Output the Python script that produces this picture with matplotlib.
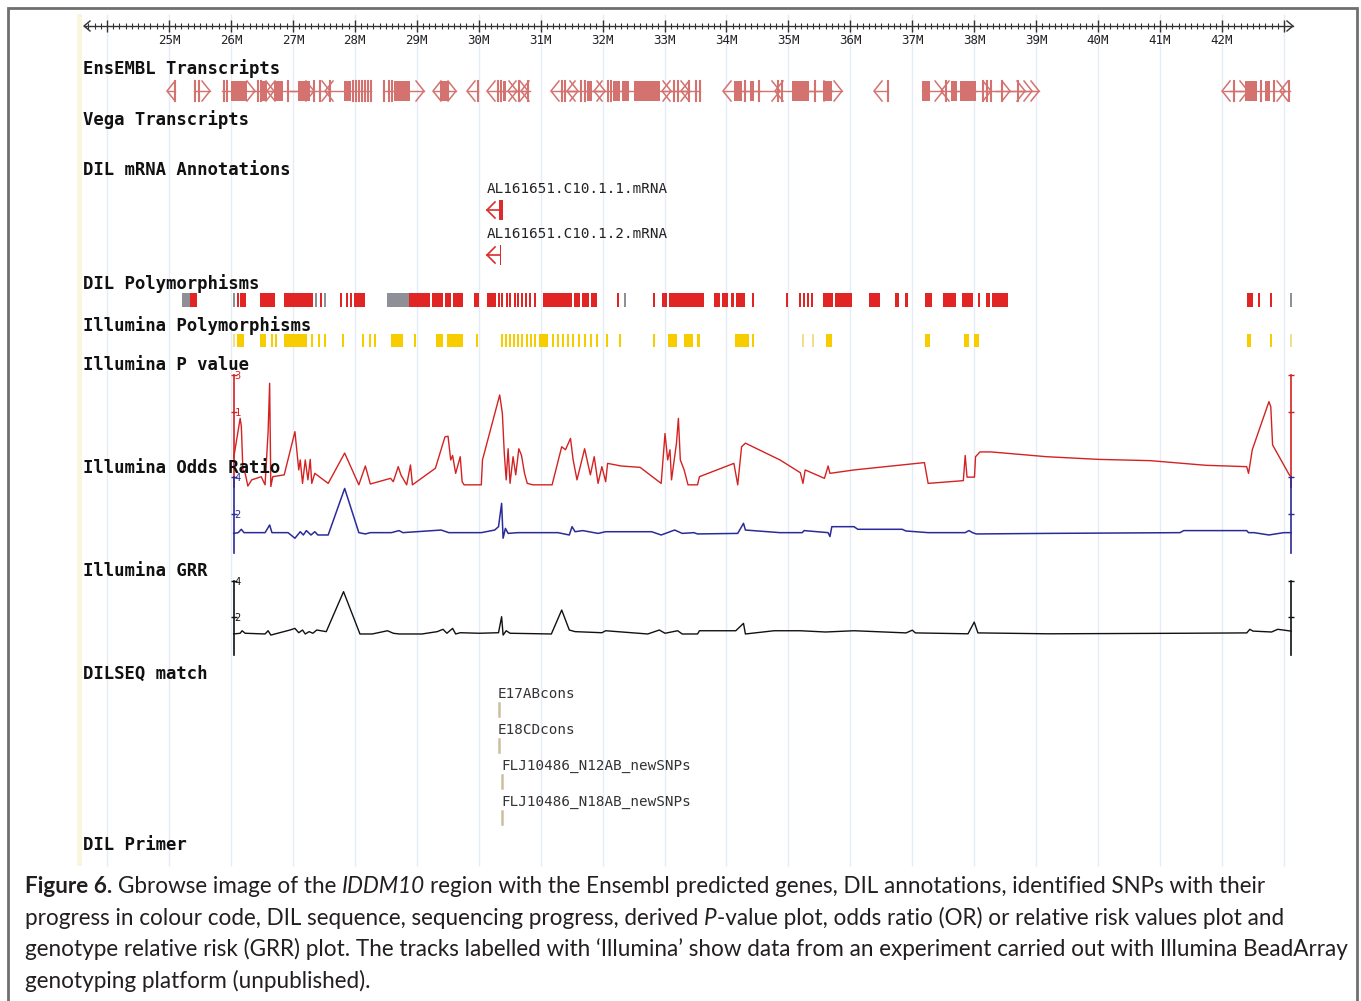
import matplotlib
matplotlib.use("Agg")
import matplotlib.pyplot as plt
from matplotlib.patches import Rectangle
from matplotlib.ticker import FixedLocator, NullLocator, FuncFormatter
import numpy as np

W, H = 1361, 1001
MB_LEFT, MB_RIGHT = 22.2716, 44.2444   # genome position (Mb) at the left / right edge of the image
PX = (MB_RIGHT - MB_LEFT) / W          # Mb per pixel

# ---- EnsEMBL transcripts (Mb) ----
gene_start = [24.968, 25.404, 25.856, 26.340, 26.582, 26.954, 27.276, 27.519, 28.455, 29.262,
              29.375, 29.811, 30.134, 30.304, 30.473, 30.538, 30.683, 31.167, 31.313, 31.426,
              31.716, 31.862, 32.184, 32.960, 33.089, 33.266, 33.944, 34.218, 34.784, 35.187,
              35.348, 36.382, 37.157, 37.464, 37.609, 38.174, 38.335, 38.578, 38.707, 42.001,
              42.130, 42.291, 42.937]
gene_end = [25.097, 25.662, 26.388, 26.695, 27.067, 27.341, 27.599, 28.261, 29.117, 29.521,
            29.634, 29.989, 30.425, 30.618, 30.651, 30.796, 30.828, 31.555, 31.603, 31.958,
            32.039, 32.426, 33.105, 33.411, 33.395, 33.573, 34.541, 34.864, 35.348, 35.704,
            35.866, 36.600, 37.497, 38.021, 38.271, 38.578, 38.820, 38.933, 39.046, 42.291,
            42.420, 43.018, 43.098]
gene_strand = [-1, 1, 1, 1, -1, 1, 1, -1, 1, -1,
               1, -1, -1, 1, -1, 1, -1, -1, 1, -1,
               1, -1, 1, -1, 1, -1, -1, 1, -1, 1,
               1, -1, 1, -1, 1, 1, 1, 1, 1, -1,
               1, 1, -1]
exon_start = [25.097, 25.420, 25.484, 25.888, 25.936, 26.001, 26.437, 26.485, 26.501, 26.695,
              26.921, 27.075, 27.341, 27.438, 27.599, 27.825, 27.971, 28.019, 28.068, 28.116,
              28.164, 28.213, 28.261, 28.471, 28.544, 28.600, 28.633, 29.375, 29.989, 30.304,
              30.360, 30.393, 30.651, 30.796, 31.345, 31.393, 31.652, 31.716, 31.749, 32.088,
              32.136, 32.161, 32.313, 32.507, 33.153, 33.218, 33.395, 33.508, 33.573, 34.121,
              34.299, 34.380, 34.525, 34.832, 34.897, 35.058, 35.429, 35.551, 36.600, 37.157,
              37.545, 37.625, 37.771, 38.142, 38.206, 38.271, 38.449, 38.707, 42.194, 42.372,
              42.630, 42.695, 42.840, 43.082]
exon_end = [25.097, 25.420, 25.484, 25.888, 25.936, 26.267, 26.437, 26.485, 26.582, 26.841,
            26.921, 27.276, 27.341, 27.438, 27.599, 27.938, 27.971, 28.019, 28.068, 28.116,
            28.164, 28.213, 28.261, 28.471, 28.544, 28.600, 28.891, 29.521, 29.989, 30.304,
            30.360, 30.441, 30.651, 30.796, 31.345, 31.393, 31.652, 31.716, 31.829, 32.088,
            32.136, 32.276, 32.426, 32.927, 33.153, 33.218, 33.395, 33.508, 33.573, 34.250,
            34.299, 34.444, 34.525, 34.832, 34.897, 35.332, 35.429, 35.704, 36.600, 37.280,
            37.545, 37.722, 38.021, 38.142, 38.206, 38.271, 38.449, 38.707, 42.194, 42.565,
            42.630, 42.775, 42.840, 43.082]

# ---- DIL mRNA annotations ----
mrna_names = ["AL161651.C10.1.1.mRNA", "AL161651.C10.1.2.mRNA"]
mrna_start = [30.134, 30.134]
mrna_exon = [(30.328, 30.393), (30.344, 30.360)]

# ---- DIL polymorphisms (state: r = done, g = pending) ----
dil_start = [25.203, 25.347, 26.033, 26.100, 26.140, 26.469, 26.857, 27.351, 27.438, 27.496,
             27.761, 27.858, 27.922, 27.979, 28.520, 28.875, 29.250, 29.455, 29.580, 29.924,
             30.134, 30.312, 30.368, 30.433, 30.489, 30.570, 30.618, 30.683, 30.747, 30.812,
             30.893, 31.038, 31.540, 31.668, 31.813, 32.233, 32.340, 32.808, 32.952, 33.080,
             33.799, 33.928, 34.073, 34.162, 34.406, 34.968, 35.171, 35.236, 35.300, 35.365,
             35.559, 35.753, 36.301, 36.721, 36.883, 37.206, 37.497, 37.803, 38.053, 38.190,
             38.287, 42.400, 42.582, 42.776, 43.098]
dil_end = [25.347, 25.452, 26.033, 26.100, 26.243, 26.711, 27.325, 27.351, 27.438, 27.496,
           27.761, 27.858, 27.922, 28.158, 28.875, 29.220, 29.420, 29.550, 29.747, 29.997,
           30.279, 30.312, 30.368, 30.433, 30.489, 30.570, 30.618, 30.683, 30.747, 30.812,
           30.893, 31.506, 31.635, 31.781, 31.910, 32.233, 32.340, 32.808, 33.040, 33.637,
           33.896, 34.025, 34.122, 34.300, 34.406, 34.968, 35.171, 35.236, 35.300, 35.365,
           35.720, 36.019, 36.478, 36.786, 36.931, 37.319, 37.706, 37.981, 38.094, 38.255,
           38.546, 42.502, 42.582, 42.776, 43.098]
dil_state = "grgrrrrgrgrrrrgrrrrrrrrrrrrrrrrrrrrrgrrrrrrrrrrrrrrrrrrrrrrrrrrrg"

# ---- Illumina polymorphisms (state: y = typed, p = pale) ----
ill_start = [26.033, 26.098, 26.469, 26.645, 26.711, 26.857, 27.293, 27.406, 27.503, 27.793,
             28.122, 28.229, 28.303, 28.591, 28.951, 29.311, 29.488, 29.957, 30.360, 30.425,
             30.489, 30.554, 30.618, 30.683, 30.764, 30.828, 30.893, 30.974, 31.183, 31.264,
             31.345, 31.426, 31.506, 31.603, 31.700, 31.797, 31.894, 32.055, 32.265, 32.808,
             33.056, 33.315, 33.531, 34.138, 34.406, 35.213, 35.387, 35.599, 37.206, 37.836,
             37.997, 42.400, 42.771, 43.098]
ill_end = [26.033, 26.211, 26.573, 26.645, 26.711, 27.222, 27.293, 27.406, 27.503, 27.793,
           28.122, 28.229, 28.303, 28.771, 28.951, 29.424, 29.747, 29.957, 30.360, 30.425,
           30.489, 30.554, 30.618, 30.683, 30.764, 30.828, 30.893, 31.114, 31.183, 31.264,
           31.345, 31.426, 31.506, 31.603, 31.700, 31.797, 31.894, 32.055, 32.265, 32.808,
           33.202, 33.460, 33.565, 34.358, 34.441, 35.213, 35.387, 35.704, 37.282, 37.913,
           38.073, 42.469, 42.808, 43.130]
ill_state = "pyyyyyyyyyyyyyyyyyyyyyyyyyyyyyyyyyyyyyyyyyyyyppyyyyyyp"

# ---- Illumina P value ----
pval_mb = [26.044, 26.149, 26.168, 26.193, 26.230, 26.273, 26.335, 26.489, 26.551, 26.600,
           26.625, 26.644, 26.675, 26.860, 27.033, 27.095, 27.119, 27.156, 27.200, 27.243,
           27.280, 27.305, 27.354, 27.570, 27.836, 28.065, 28.170, 28.250, 28.578, 28.621,
           28.701, 28.744, 28.837, 28.899, 28.930, 29.301, 29.455, 29.505, 29.548, 29.579,
           29.628, 29.702, 29.733, 29.764, 30.042, 30.061, 30.339, 30.382, 30.413, 30.444,
           30.475, 30.506, 30.555, 30.598, 30.648, 30.691, 30.740, 30.784, 30.876, 31.185,
           31.340, 31.401, 31.482, 31.525, 31.587, 31.710, 31.803, 31.865, 31.927, 31.989,
           32.050, 32.081, 32.297, 32.606, 32.946, 33.008, 33.051, 33.088, 33.113, 33.193,
           33.224, 33.255, 33.317, 33.379, 33.533, 33.564, 34.120, 34.182, 34.244, 34.306,
           34.864, 35.193, 35.235, 35.271, 35.582, 35.641, 35.671, 36.060, 37.196, 37.256,
           37.824, 37.854, 37.884, 38.004, 38.021, 38.093, 38.273, 39.170, 40.007, 40.844,
           41.741, 42.399, 42.429, 42.489, 42.758, 42.788, 42.817, 43.087, 43.116]
pval = [0.25, 0.82, 0.64, 0.175, 0.158, 0.108, 0.130, 0.143, 0.112, 0.55,
        2.34, 0.106, 0.143, 0.151, 0.55, 0.175, 0.236, 0.117, 0.236, 0.130,
        0.24, 0.117, 0.158, 0.117, 0.29, 0.112, 0.197, 0.115, 0.136, 0.123,
        0.193, 0.151, 0.112, 0.203, 0.112, 0.184, 0.47, 0.48, 0.236, 0.27,
        0.158, 0.26, 0.123, 0.112, 0.112, 0.236, 1.65, 0.95, 0.29, 0.130,
        0.33, 0.117, 0.26, 0.151, 0.33, 0.27, 0.158, 0.117, 0.112, 0.112,
        0.35, 0.32, 0.45, 0.236, 0.130, 0.33, 0.151, 0.26, 0.117, 0.193,
        0.123, 0.213, 0.197, 0.189, 0.117, 0.52, 0.236, 0.32, 0.130, 0.39,
        0.82, 0.236, 0.175, 0.112, 0.112, 0.143, 0.213, 0.112, 0.35, 0.39,
        0.236, 0.161, 0.117, 0.175, 0.136, 0.197, 0.158, 0.175, 0.218, 0.117,
        0.127, 0.27, 0.141, 0.141, 0.26, 0.30, 0.30, 0.26, 0.24, 0.231,
        0.201, 0.193, 0.158, 0.32, 1.35, 1.16, 0.37, 0.151, 0.143]

# ---- Illumina odds ratio ----
or_mb = [26.044, 26.118, 26.168, 26.211, 26.551, 26.625, 26.662, 26.922, 27.033, 27.119,
         27.169, 27.218, 27.292, 27.354, 27.404, 27.570, 27.836, 28.065, 28.170, 28.250,
         28.590, 28.714, 28.776, 29.393, 29.517, 30.042, 30.258, 30.320, 30.370, 30.394,
         30.431, 30.475, 30.629, 31.278, 31.463, 31.507, 31.556, 31.680, 31.927, 32.050,
         32.792, 32.946, 33.163, 33.286, 33.472, 33.533, 34.182, 34.275, 34.306, 34.864,
         35.223, 35.253, 35.641, 35.671, 35.701, 36.060, 36.120, 36.837, 36.897, 37.256,
         37.854, 37.914, 37.974, 38.033, 39.170, 41.322, 41.382, 42.399, 42.429, 42.518,
         42.758, 42.997, 43.116]
odds = [0.96, 1.0, 1.18, 1.0, 1.0, 1.41, 1.0, 1.0, 0.70, 1.05,
        0.875, 1.11, 0.875, 1.05, 0.875, 0.875, 3.37, 1.0, 0.93, 1.0,
        1.0, 1.11, 1.0, 1.14, 1.0, 1.0, 1.14, 1.32, 2.57, 0.70,
        1.23, 0.96, 1.0, 1.0, 0.875, 1.32, 1.05, 1.11, 0.96, 1.05,
        1.05, 0.875, 1.14, 0.96, 1.0, 0.93, 0.96, 1.5, 1.14, 1.0,
        1.0, 1.11, 1.0, 0.79, 1.32, 1.32, 1.18, 1.18, 1.09, 1.0,
        1.0, 1.11, 1.0, 0.93, 0.96, 1.0, 1.11, 1.11, 1.0, 1.0,
        0.875, 1.0, 1.0]

# ---- Illumina GRR ----
grr_mb = [26.044, 26.149, 26.180, 26.230, 26.551, 26.600, 26.644, 26.953, 27.033, 27.095,
          27.156, 27.200, 27.262, 27.323, 27.385, 27.539, 27.818, 28.083, 28.281, 28.528,
          28.621, 28.714, 29.084, 29.331, 29.424, 29.486, 29.579, 29.628, 29.702, 30.011,
          30.320, 30.370, 30.394, 30.444, 30.506, 31.173, 31.340, 31.463, 31.556, 31.989,
          32.050, 32.730, 32.916, 33.008, 33.212, 33.286, 33.533, 33.564, 34.151, 34.275,
          34.306, 34.769, 35.190, 35.600, 36.060, 36.900, 37.000, 37.050, 37.900, 38.000,
          38.060, 39.200, 41.400, 42.400, 42.450, 42.500, 42.800, 42.900, 43.116]
grr = [1.04, 1.08, 1.22, 1.08, 1.04, 1.22, 0.98, 1.26, 1.35, 1.11,
       1.26, 1.04, 1.17, 1.08, 1.26, 1.17, 3.39, 1.04, 1.04, 1.22,
       1.08, 1.04, 1.04, 1.17, 1.30, 1.08, 1.35, 1.04, 1.11, 1.08,
       1.11, 2.0, 0.98, 1.22, 1.08, 1.04, 2.37, 1.26, 1.17, 1.11,
       1.22, 1.04, 1.26, 1.08, 1.22, 1.04, 1.04, 1.22, 1.22, 1.63,
       1.04, 1.22, 1.22, 1.15, 1.22, 1.10, 1.25, 1.10, 1.05, 1.70,
       1.10, 1.05, 1.08, 1.10, 1.30, 1.20, 1.15, 1.30, 1.20]

# ---- DILSEQ match ----
seq_names = ["E17ABcons", "E18CDcons", "FLJ10486_N12AB_newSNPs", "FLJ10486_N18AB_newSNPs"]
seq_pos = [30.328, 30.328, 30.376, 30.376]

track_labels = ["EnsEMBL Transcripts", "Vega Transcripts", "DIL mRNA Annotations",
                "DIL Polymorphisms", "Illumina Polymorphisms", "Illumina P value",
                "Illumina Odds Ratio", "Illumina GRR", "DILSEQ match", "DIL Primer"]
track_label_y = [69, 120, 170, 284, 326, 365, 468, 571, 674, 845]

caption = [
    [("Figure 6.", "b"), (" Gbrowse image of the ", "n"), ("IDDM10", "i"),
     (" region with the Ensembl predicted genes, DIL annotations, identified SNPs with their", "n")],
    [("progress in colour code, DIL sequence, sequencing progress, derived ", "n"), ("P", "i"),
     ("-value plot, odds ratio (OR) or relative risk values plot and", "n")],
    [("genotype relative risk (GRR) plot. The tracks labelled with \u2018Illumina\u2019 show data "
      "from an experiment carried out with Illumina BeadArray", "n")],
    [("genotyping platform (unpublished).", "n")],
]

MONO = "DejaVu Sans Mono"
ENS_COL = "#d4726f"

fig = plt.figure(figsize=(W / 100, H / 100), dpi=100)

# genome axes: x in Mb, y in pixels from the top
gen = fig.add_axes([0, 0, 1, 1])
gen.set_xlim(MB_LEFT, MB_RIGHT)
gen.set_ylim(H, 0)
gen.axis("off")
gen.set_zorder(1)

# pixel overlay for page furniture, drawn above everything else
pix = fig.add_axes([0, 0, 1, 1])
pix.set_xlim(0, W)
pix.set_ylim(H, 0)
pix.axis("off")
pix.set_zorder(5)

# frame and panel background
pix.plot([8, 8, 1357, 1357], [H, 8, 8, H], color="#6f6f6f", lw=2, solid_joinstyle="miter")
gen.add_patch(Rectangle((77, 14), 5, 852, color="#faf6de", lw=0, zorder=0, transform=pix.transData))
gen.vlines(np.arange(24, 44), 14, 866, color="#e3ecf7", lw=1, zorder=0)

# ruler
r0, r1 = 23.628, 43.146
gen.plot([r0, r1], [26, 26], color="#333333", lw=1)
gen.plot([r0 + 6 * PX, r0, r0 + 6 * PX], [21, 26, 31], color="#333333", lw=1)
gen.plot([r1 - 6 * PX, r1, r1 - 6 * PX], [21, 26, 31], color="#333333", lw=1)
minor = np.round(np.arange(23.7, 43.1, 0.1), 1)
minor = minor[np.abs(minor - np.round(minor)) > 1e-6]
gen.vlines(minor, 23, 29, color="#333333", lw=0.8)
gen.vlines(np.arange(24, 44), 20, 32, color="#333333", lw=1)
for m in range(25, 43):
    gen.text(m, 41, f"{m}M", family=MONO, fontsize=9, ha="center", va="center", color="#222222")

# track labels
for lab, y in zip(track_labels, track_label_y):
    pix.text(83, y, lab, family=MONO, fontweight="bold", fontsize=12.4, ha="left", va="center",
             color="#111111")

# EnsEMBL transcripts
top, bot = 81, 101
mid = (top + bot) / 2
aw = 8 * PX
for s, e, st in zip(gene_start, gene_end, gene_strand):
    gen.plot([s, e], [mid, mid], color=ENS_COL, lw=1)
    if st < 0:
        gen.plot([s + aw, s, s + aw], [top, mid, bot], color=ENS_COL, lw=1.1)
    else:
        gen.plot([e - aw, e, e - aw], [top, mid, bot], color=ENS_COL, lw=1.1)
for s, e in zip(exon_start, exon_end):
    if e - s < 1.5 * PX:
        gen.plot([s, s], [top, bot], color=ENS_COL, lw=1.5)
    else:
        gen.add_patch(Rectangle((s, top), e - s, bot - top, color=ENS_COL, lw=0))

# DIL mRNA annotations
for i, (name, s, ex) in enumerate(zip(mrna_names, mrna_start, mrna_exon)):
    ft, fb = 200 + 45 * i, 220 + 45 * i
    fm = (ft + fb) / 2
    gen.text(s, ft - 11, name, family=MONO, fontsize=10.3, ha="left", va="center", color="#222222")
    gen.plot([s + aw, s, s + aw], [ft + 2, fm, fb - 2], color="#dd2b2b", lw=1.2)
    gen.plot([s, ex[0]], [fm, fm], color="#dd2b2b", lw=1.2)
    gen.add_patch(Rectangle((ex[0], ft), ex[1] - ex[0], fb - ft, color="#dd2b2b", lw=0))

# polymorphism tracks
dil_col = {"r": "#e12525", "g": "#8f8f97"}
for s, e, c in zip(dil_start, dil_end, dil_state):
    gen.add_patch(Rectangle((s, 293), max(e - s, 2 * PX), 14, color=dil_col[c], lw=0))
ill_col = {"y": "#f7cd00", "p": "#f1df8c"}
for s, e, c in zip(ill_start, ill_end, ill_state):
    gen.add_patch(Rectangle((s, 334), max(e - s, 2 * PX), 13, color=ill_col[c], lw=0))


def track_axes(top_px, bot_px):
    ax = fig.add_axes([0, 1 - bot_px / H, 1, (bot_px - top_px) / H])
    ax.set_xlim(MB_LEFT, MB_RIGHT)
    ax.set_zorder(2)
    ax.patch.set_visible(False)
    ax.xaxis.set_visible(False)
    ax.spines["top"].set_visible(False)
    ax.spines["bottom"].set_visible(False)
    return ax


def style_track(ax, xs, color, ticks, lo, hi):
    ax.spines["left"].set_position(("data", xs[0]))
    ax.spines["right"].set_position(("data", xs[-1]))
    for side in ("left", "right"):
        ax.spines[side].set_color(color)
        ax.spines[side].set_bounds(lo, hi)
        ax.spines[side].set_linewidth(1.2)
    ax.yaxis.set_major_locator(FixedLocator(ticks))
    ax.yaxis.set_minor_locator(NullLocator())
    ax.yaxis.set_major_formatter(FuncFormatter(lambda v, p: f"{v:g}"))
    ax.tick_params(axis="y", left=True, right=True, labelleft=True, labelright=False,
                   direction="inout", length=5, width=1, color=color, labelcolor=color,
                   labelsize=7.5, pad=-7.5)
    for t in ax.get_yticklabels():
        t.set_family(MONO)


ax_p = track_axes(375, 487)
ax_p.set_yscale("log")
ax_p.set_ylim(0.105, 3.0)
ax_p.plot(pval_mb, pval, color="#d42222", lw=1)
style_track(ax_p, pval_mb, "#d42222", [1, 3], 0.105, 3.0)

ax_or = track_axes(476.7, 551.3)
ax_or.set_ylim(0, 4)
ax_or.plot(or_mb, odds, color="#2b2b98", lw=1.1)
style_track(ax_or, or_mb, "#2b2b98", [2, 4], -0.08, 4)

ax_g = track_axes(580.7, 652.7)
ax_g.set_ylim(0, 4)
ax_g.plot(grr_mb, grr, color="#111111", lw=1)
style_track(ax_g, grr_mb, "#111111", [2, 4], -0.13, 4)

# DILSEQ matches
for i, (name, x) in enumerate(zip(seq_names, seq_pos)):
    yl = 694 + 36 * i
    gen.text(x - 1 * PX, yl, name, family=MONO, fontsize=10.3, ha="left", va="center", color="#333333")
    gen.plot([x, x], [yl + 9, yl + 22], color="#cbbf9f", lw=1.8)

# caption
rend = fig.canvas.get_renderer()


def draw_line(segs, x0, yb, size, measure=False):
    x = x0
    sp = None
    made = []
    for text, style in segs:
        kw = dict(family="Lato", fontsize=size, va="baseline", ha="left", color="#231f20",
                  fontweight="bold" if style == "b" else "normal",
                  fontstyle="italic" if style == "i" else "normal")
        if sp is None:
            a = pix.text(0, 0, "a a", **kw)
            b = pix.text(0, 0, "aa", **kw)
            sp = a.get_window_extent(rend).width - b.get_window_extent(rend).width
            a.remove()
            b.remove()
        lead = len(text) - len(text.lstrip(" "))
        trail = len(text) - len(text.rstrip(" "))
        x += lead * sp
        t = pix.text(x, yb, text.strip(" "), **kw)
        x += t.get_window_extent(rend).width + trail * sp
        made.append(t)
    if measure:
        for t in made:
            t.remove()
    return x - x0


targets = [1247, 1264, 1320]
natural = [draw_line(caption[i], 25, 900, 10, measure=True) for i in range(3)]
cap_size = 10 * sum(targets) / sum(natural)
for segs, yb in zip(caption, [893, 925, 956, 988]):
    draw_line(segs, 25, yb, cap_size)

fig.savefig("out.png", dpi=100)
